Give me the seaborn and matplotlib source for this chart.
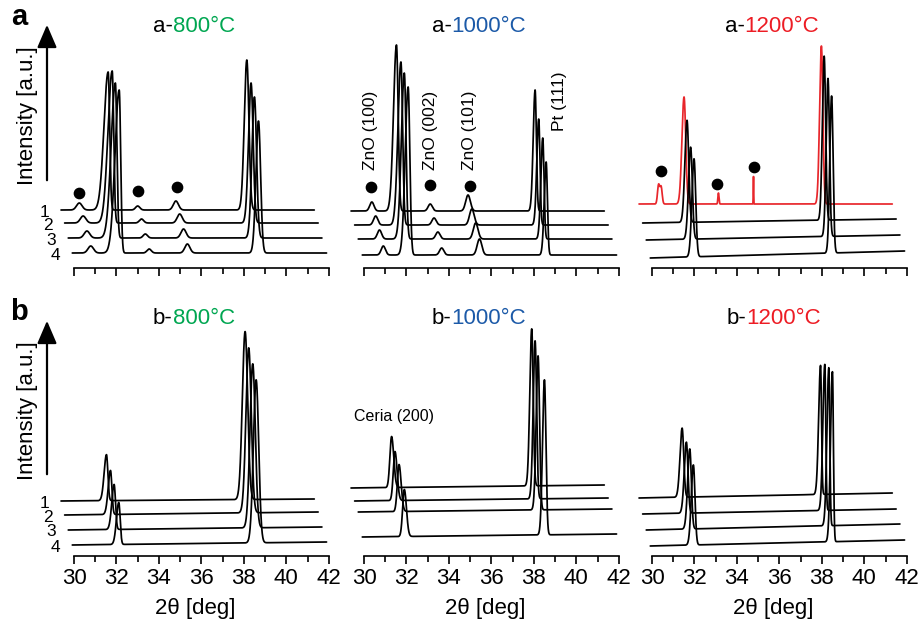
import numpy as np
import pandas as pd
import matplotlib
matplotlib.use("Agg")
import matplotlib.pyplot as plt
import seaborn as sns

# ---- values ----
panel_rows = ["a", "a", "a", "b", "b", "b"]
panel_temps = ["800°C", "1000°C", "1200°C", "800°C", "1000°C", "1200°C"]
temp_colors = {"800°C": "#00a651", "1000°C": "#1c5aa8", "1200°C": "#ed1c24"}
trace_labels = ["1", "2", "3", "4"]

# scan range of each trace on the (waterfall shifted) 2theta axis
trace_start = [29.39, 29.56, 29.73, 29.92]
trace_end = [41.32, 41.50, 41.68, 41.90]
trace_shift = [0.0, 0.18, 0.36, 0.54]

# vertical offset of each trace and slight baseline rise across the scan
baselines = [
    [58, 45, 30, 15],
    [57, 43, 29, 13],
    [64, 45, 28, 10],
    [55, 41, 26, 11],
    [68, 55, 44, 19],
    [58, 42, 26, 10],
]
baseline_drift = [
    [0, 0, 0, 0],
    [0, 0, 0, 0],
    [0, 4, 5, 7],
    [2, 3, 3, 3],
    [3, 3, 3, 3],
    [5, 5, 6, 6],
]

# strong peak near 31.5 deg (ZnO / ceria)
main_pos = [
    [31.61, 31.80, 31.95, 32.13],
    [31.53, 31.74, 31.90, 32.08],
    [31.51, 31.65, 31.82, 31.98],
    [31.53, 31.72, 31.89, 32.11],
    [31.30, 31.46, 31.65, 31.90],
    [31.42, 31.62, 31.78, 31.95],
]
main_height = [
    [138, 152, 155, 163],
    [166, 163, 166, 168],
    [107, 102, 92, 98],
    [46, 44, 45, 42],
    [51, 49, 47, 47],
    [69, 71, 80, 80],
]
main_wl = [0.20, 0.14, 0.10, 0.11, 0.08, 0.10]
main_wr = [0.07, 0.08, 0.08, 0.065, 0.10, 0.075]

# Pt (111) peak
pt_pos = [
    [38.14, 38.34, 38.50, 38.69],
    [38.06, 38.23, 38.42, 38.58],
    [37.98, 38.11, 38.29, 38.46],
    [38.06, 38.23, 38.42, 38.58],
    [37.90, 38.06, 38.20, 38.50],
    [37.94, 38.14, 38.33, 38.50],
]
pt_height = [
    [150, 140, 141, 132],
    [121, 106, 101, 93],
    [158, 164, 158, 157],
    [168, 165, 164, 163],
    [157, 158, 154, 155],
    [129, 146, 158, 170],
]
pt_wl = [0.12, 0.09, 0.085, 0.13, 0.09, 0.09]
pt_wr = [0.10, 0.06, 0.07, 0.12, 0.07, 0.045]

# weak ZnO reflections (position on trace 1, height, width, traces that show them)
zno_pos = [[30.25, 33.00, 34.80], [30.37, 33.12, 34.90], [30.31, 30.43, 33.13, 34.78], [], [], []]
zno_height = [[7, 4, 9], [9, 7, 16], [19, 17, 11, 28], [], [], []]
zno_width = [[0.13, 0.10, 0.12], [0.10, 0.10, 0.11], [0.05, 0.05, 0.025, 0.01], [], [], []]
zno_traces = [[0, 1, 2, 3], [0, 1, 2, 3], [0], [], [], []]


def peak(x, center, height, wl, wr):
    w = np.where(x < center, wl, wr)
    return height * np.exp(-0.5 * ((x - center) / w) ** 2)


sns.set_style("ticks")
plt.rcParams["font.family"] = ["Liberation Sans", "DejaVu Sans"]
plt.rcParams["axes.linewidth"] = 1.2
plt.rcParams["text.color"] = "black"
plt.rcParams["axes.labelcolor"] = "black"
plt.rcParams["xtick.color"] = "black"
plt.rcParams["axes.edgecolor"] = "black"

W, H = 921, 627
fig = plt.figure(figsize=(W / 100, H / 100), dpi=100)
lefts = [57, 347, 635]
bottoms = {"a": 268, "b": 556}

axes = []
for p in range(6):
    row = panel_rows[p]
    ax = fig.add_axes([lefts[p % 3] / W, (H - bottoms[row]) / H, 276 / W, 253 / H])
    ax.patch.set_alpha(0)
    axes.append(ax)

    frames = []
    for i, lab in enumerate(trace_labels):
        x = np.arange(trace_start[i], trace_end[i], 0.004)
        y = baselines[p][i] + baseline_drift[p][i] * (x - x[0]) / (x[-1] - x[0])
        y = y + peak(x, main_pos[p][i], main_height[p][i], main_wl[p], main_wr[p])
        y = y + peak(x, pt_pos[p][i], pt_height[p][i], pt_wl[p], pt_wr[p])
        if i in zno_traces[p]:
            for c, h, w in zip(zno_pos[p], zno_height[p], zno_width[p]):
                y = y + peak(x, c + trace_shift[i], h, w, w)
        frames.append(pd.DataFrame({"two_theta": x, "intensity": y, "trace": lab}))
    df = pd.concat(frames)

    colors = ["black"] * 4
    if p == 2:
        colors[0] = "#e8262b"
    sns.lineplot(data=df, x="two_theta", y="intensity", hue="trace",
                 hue_order=trace_labels, palette=colors, legend=False,
                 estimator=None, sort=False, lw=1.25, ax=ax)

    ax.set_xlim(29.2, 42.2)
    ax.set_ylim(0, 253)
    sns.despine(ax=ax, left=True)
    ax.spines["bottom"].set_bounds(30, 42)
    ax.set_yticks([])
    ax.set_ylabel("")
    ax.set_xticks(range(30, 43, 2))
    ax.set_xticks(range(31, 42, 2), minor=True)
    ax.tick_params(axis="x", which="major", length=6, width=1.2, labelsize=16, pad=3)
    ax.tick_params(axis="x", which="minor", length=4, width=1.2)
    if row == "a":
        ax.tick_params(axis="x", labelbottom=False)
        ax.set_xlabel("")
    else:
        ax.set_xlabel("2θ [deg]", fontsize=16, labelpad=6)

    if p % 3 == 0:
        for i, lab in enumerate(trace_labels):
            ax.text(trace_start[i] - 0.8, baselines[p][i] - 2, lab, fontsize=12.5,
                    ha="center", va="center", clip_on=False)

# phase markers
dots = {0: [(30.24, 75), (33.01, 77), (34.85, 81)],
        1: [(30.33, 81), (33.11, 83), (34.99, 82)],
        2: [(30.42, 97), (33.08, 84), (34.81, 101)]}
for p, pts in dots.items():
    axes[p].scatter([d[0] for d in pts], [d[1] for d in pts], s=55, color="black",
                    zorder=5, clip_on=False)

for xx, txt in [(30.33, "ZnO (100)"), (33.11, "ZnO (002)"), (34.99, "ZnO (101)")]:
    axes[1].text(xx, 138, txt, rotation=90, fontsize=12.5, ha="center", va="center")
axes[1].text(39.2, 167, "Pt (111)", rotation=90, fontsize=12.5, ha="center", va="center")
axes[4].text(31.41, 139, "Ceria (200)", fontsize=11.5, ha="center", va="center")

# two coloured panel titles
renderer = fig.canvas.get_renderer()
title_pos = [(194, 27), (479, 27), (772, 27), (194, 318), (479, 318), (774, 318)]
for p, (cx, cy) in enumerate(title_pos):
    t1 = fig.text(0, 0, panel_rows[p] + "-", fontsize=16, va="center")
    t2 = fig.text(0, 0, panel_temps[p], fontsize=16, va="center",
                  color=temp_colors[panel_temps[p]])
    w1 = t1.get_window_extent(renderer).width
    w2 = t2.get_window_extent(renderer).width
    x0 = cx - (w1 + w2) / 2
    t1.set_position((x0 / W, (H - cy) / H))
    t2.set_position(((x0 + w1) / W, (H - cy) / H))

# intensity arrows, axis titles and panel letters
for top, bot, lab_y, letter_y, letter in [(22, 183, 116, 17, "a"), (318, 477, 411, 312, "b")]:
    fig.add_artist(matplotlib.patches.FancyArrowPatch(
        (47, H - bot), (47, H - top), transform=None,
        arrowstyle="-|>,head_length=0.7,head_width=0.3", mutation_scale=20,
        lw=1.6, color="black"))
    fig.text(27 / W, (H - lab_y) / H, "Intensity [a.u.]", rotation=90, fontsize=16,
             ha="center", va="center")
    fig.text(19 / W, (H - letter_y) / H, letter, fontsize=21, fontweight="bold",
             ha="center", va="center")

fig.savefig("out.png", dpi=100)
